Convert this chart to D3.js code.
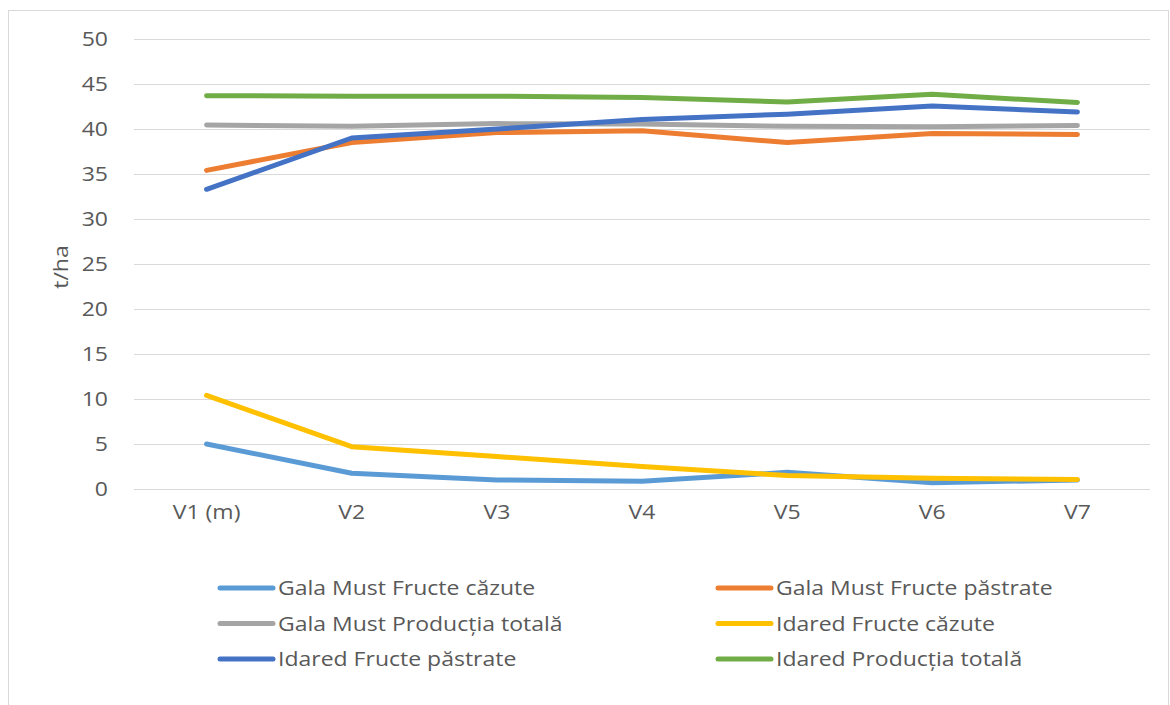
<!DOCTYPE html>
<html>
<head>
<meta charset="utf-8">
<script src="https://cdn.jsdelivr.net/npm/d3@7"></script>
<style>
  body { margin: 0; background: #fff; }
  text { font-family: "Open Sans", sans-serif; fill: #595959; }
</style>
</head>
<body>
<script>
// categories and series (t/ha)
var categories = ["V1 (m)", "V2", "V3", "V4", "V5", "V6", "V7"];
var galaCazute = [5.0, 1.75, 1.0, 0.85, 1.85, 0.7, 1.0];
var galaPastrate = [35.4, 38.5, 39.6, 39.8, 38.5, 39.5, 39.4];
var galaTotal = [40.45, 40.3, 40.6, 40.55, 40.3, 40.25, 40.4];
var idaredCazute = [10.4, 4.7, 3.6, 2.5, 1.5, 1.2, 1.05];
var idaredPastrate = [33.3, 39.0, 40.0, 41.05, 41.65, 42.55, 41.9];
var idaredTotal = [43.7, 43.65, 43.65, 43.5, 43.0, 43.85, 42.95];
var yTicks = [0, 5, 10, 15, 20, 25, 30, 35, 40, 45, 50];

var seriesNames = ["Gala Must Fructe căzute", "Gala Must Fructe păstrate",
  "Gala Must Producția totală", "Idared Fructe căzute",
  "Idared Fructe păstrate", "Idared Producția totală"];
var seriesColors = ["#5b9bd5", "#ed7d31", "#a5a5a5", "#ffc000", "#4472c4", "#70ad47"];
var seriesValues = [galaCazute, galaPastrate, galaTotal, idaredCazute, idaredPastrate, idaredTotal];

var fontSize = "20px";
var stretch = "scale(1.15,1)";

window.onload = function(){
  var svg = d3.select("body").append("svg")
    .attr("width", 1170)
    .attr("height", 705);

  // chart frame
  svg.append("rect")
    .attr("x", 8.5).attr("y", 10.5)
    .attr("width", 1160).attr("height", 700)
    .style("fill", "none")
    .style("stroke", "#d9d9d9");

  var x = d3.scaleBand()
    .domain(categories)
    .range([134, 1150]);

  var y = d3.scaleLinear()
    .domain([0, 50])
    .range([489, 39]);

  // gridlines
  svg.append("g").selectAll("line")
    .data(yTicks)
    .enter()
    .append("line")
    .attr("x1", 134).attr("x2", 1150)
    .attr("y1", function(d){ return y(d) + 0.5; })
    .attr("y2", function(d){ return y(d) + 0.5; })
    .style("stroke", "#d9d9d9")
    .style("stroke-width", 1);

  // y axis labels
  var yAxis = d3.axisLeft(y).tickValues(yTicks).tickSize(0).tickPadding(0);
  var gy = svg.append("g")
    .attr("transform", "translate(108,0)")
    .call(yAxis);
  gy.select(".domain").remove();
  gy.selectAll(".tick text")
    .attr("x", null)
    .attr("transform", stretch)
    .style("font-size", fontSize)
    .style("font-family", "'Open Sans', sans-serif")
    .attr("fill", "#595959");

  // x axis labels
  var xAxis = d3.axisBottom(x).tickSize(0).tickPadding(0);
  var gx = svg.append("g")
    .attr("transform", "translate(0,512)")
    .call(xAxis);
  gx.select(".domain").remove();
  gx.selectAll(".tick text")
    .attr("y", null)
    .attr("dy", "0.35em")
    .attr("transform", stretch)
    .style("font-size", fontSize)
    .style("font-family", "'Open Sans', sans-serif")
    .attr("fill", "#595959");

  // axis title
  svg.append("text")
    .attr("transform", "translate(68,267) rotate(-90) " + stretch)
    .attr("text-anchor", "middle")
    .style("font-size", fontSize)
    .text("t/ha");

  var line = d3.line()
    .x(function(d, i){ return x(categories[i]) + x.bandwidth() / 2; })
    .y(function(d){ return y(d); });

  svg.append("g").selectAll("path")
    .data(seriesValues)
    .enter()
    .append("path")
    .attr("d", line)
    .style("fill", "none")
    .style("stroke", function(d, i){ return seriesColors[i]; })
    .style("stroke-width", 5)
    .style("stroke-linecap", "round")
    .style("stroke-linejoin", "round");

  // legend
  var legend = svg.append("g").selectAll("g")
    .data(seriesNames)
    .enter()
    .append("g")
    .attr("transform", function(d, i){
      return "translate(" + (i % 2 === 0 ? 218 : 716) + "," + (588 + Math.floor(i / 2) * 35.5) + ")";
    });
  legend.append("line")
    .attr("x1", 2).attr("x2", 55)
    .attr("y1", 0).attr("y2", 0)
    .style("stroke", function(d, i){ return seriesColors[i]; })
    .style("stroke-width", 5)
    .style("stroke-linecap", "round");
  legend.append("text")
    .attr("transform", "translate(60,0) " + stretch)
    .attr("dy", "0.35em")
    .style("font-size", fontSize)
    .text(function(d){ return d; });
};
</script>
</body>
</html>
